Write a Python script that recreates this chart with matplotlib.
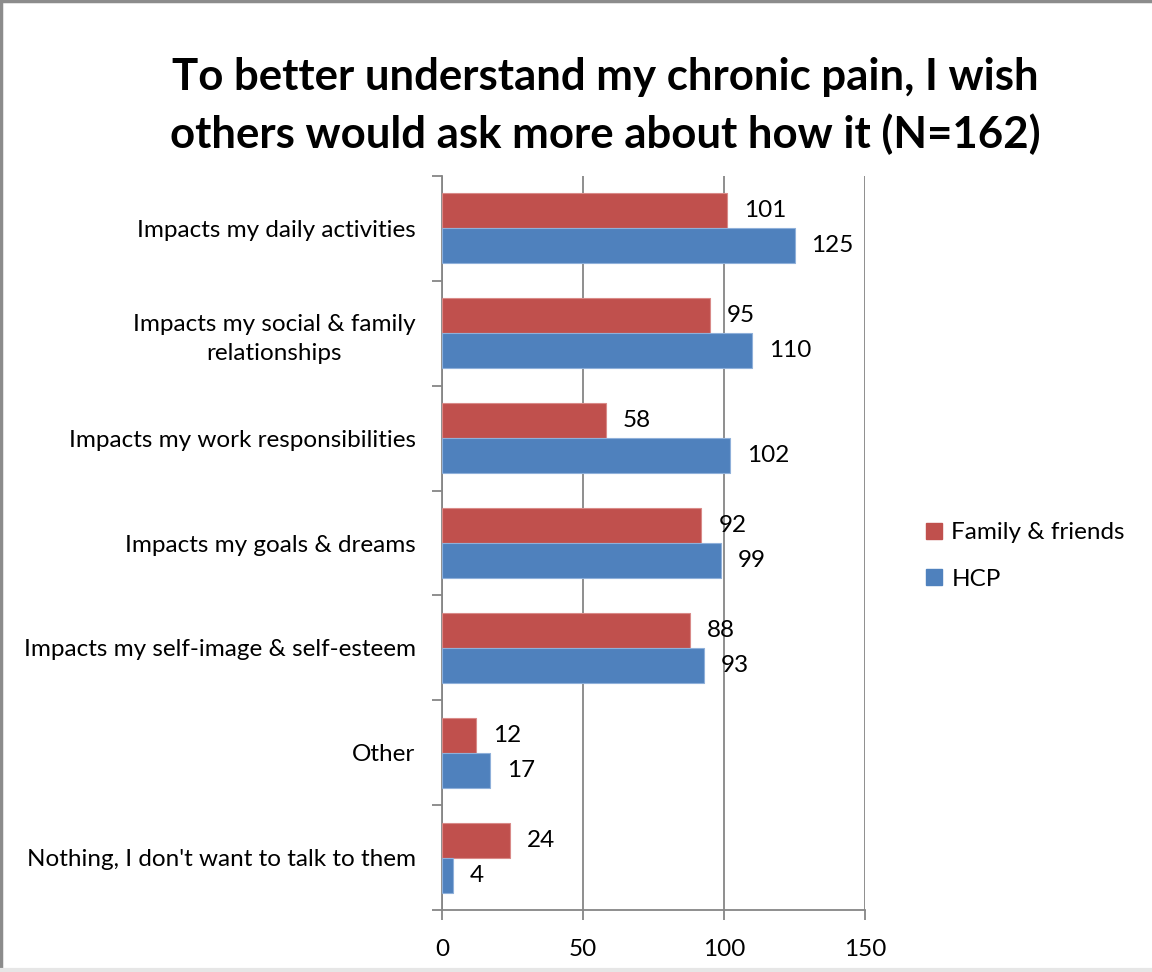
import matplotlib
matplotlib.use("Agg")
import matplotlib.pyplot as plt
from matplotlib.lines import Line2D
from matplotlib.patches import Patch
import numpy as np

categories = [
    "Impacts my daily activities",
    "Impacts my social & family\nrelationships",
    "Impacts my work responsibilities",
    "Impacts my goals & dreams",
    "Impacts my self-image & self-esteem",
    "Other",
    "Nothing, I don't want to talk to them",
]
family_friends = [101, 95, 58, 92, 88, 12, 24]
hcp = [125, 110, 102, 99, 93, 17, 4]
series_names = ["Family & friends", "HCP"]
x_ticks = [0, 50, 100, 150]
title = "To better understand my chronic pain, I wish\nothers would ask more about how it (N=162)"

RED = "#C0504D"
BLUE = "#4F81BD"
GRID = "#868686"

plt.rcParams["font.family"] = ["Lato", "DejaVu Sans"]

fig = plt.figure(figsize=(11.52, 9.72), dpi=100)
ax = fig.add_axes([442 / 1152, 1 - 910 / 972, 423 / 1152, 734 / 972])

n = len(categories)
y = np.arange(n)
h = 1 / 3
ax.barh(y - h / 2, family_friends, height=h, color=RED, edgecolor="#D98A88", linewidth=0.8, zorder=3)
ax.barh(y + h / 2, hcp, height=h, color=BLUE, edgecolor="#8FB0DA", linewidth=0.8, zorder=3)

fs = 17.5
for yi, v in zip(y, family_friends):
    ax.text(v + 6, yi - h / 2, str(v), va="center", ha="left", fontsize=fs, zorder=4)
for yi, v in zip(y, hcp):
    ax.text(v + 6, yi + h / 2, str(v), va="center", ha="left", fontsize=fs, zorder=4)

ax.set_xlim(0, 150)
ax.set_ylim(n - 0.5, -0.5)
ax.set_xticks(x_ticks)
ax.set_xticklabels([str(t) for t in x_ticks], fontsize=fs)
ax.set_yticks(y)
ax.set_yticklabels(categories, fontsize=fs, ha="right", multialignment="center",
                   linespacing=1.45)
ax.set_yticks(np.arange(n + 1) - 0.5, minor=True)

ax.tick_params(axis="y", which="major", length=0, pad=19)
ax.tick_params(axis="y", which="minor", length=7, width=1.3, color=GRID, direction="out")
ax.tick_params(axis="x", which="major", length=7, width=1.3, color=GRID, direction="out", pad=14)

ax.grid(axis="x", color=GRID, linewidth=1.3, zorder=0)
for side in ["top", "right"]:
    ax.spines[side].set_visible(False)
for side in ["left", "bottom"]:
    ax.spines[side].set_color(GRID)
    ax.spines[side].set_linewidth(1.3)

fig.text(605 / 1152, 1 - 106 / 972, title, ha="center", va="center",
         fontsize=31.5, fontweight="bold", linespacing=1.45)

handles = [Patch(facecolor=RED, edgecolor=RED), Patch(facecolor=BLUE, edgecolor=BLUE)]
fig.legend(handles, series_names, loc="center left", bbox_to_anchor=(904 / 1152, 1 - 556 / 972),
           frameon=False, fontsize=fs, handlelength=0.65, handleheight=0.65,
           handletextpad=0.4, labelspacing=1.05)

# outer frame of the chart area
fig.add_artist(Line2D([0.001, 0.001], [0, 1], transform=fig.transFigure, color="#8C8C8C", linewidth=2.5))
fig.add_artist(Line2D([0, 1], [0.999, 0.999], transform=fig.transFigure, color="#8C8C8C", linewidth=2.5))
fig.add_artist(Line2D([0, 1], [0.002, 0.002], transform=fig.transFigure, color="#E6E6E6", linewidth=3))

fig.savefig("out.png", dpi=100, facecolor="white")
